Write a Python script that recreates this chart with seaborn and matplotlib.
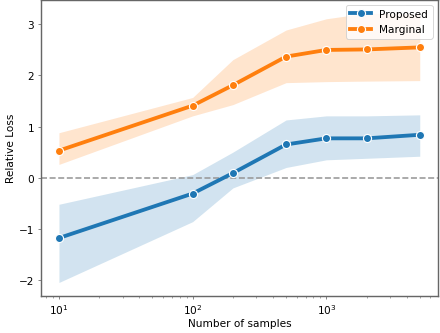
import numpy as np
import pandas as pd
import matplotlib
matplotlib.use('Agg')
import matplotlib.pyplot as plt
import seaborn as sns

# Data
n_samples = [10, 100, 200, 500, 1000, 2000, 5000]

proposed_mean = [-1.18, -0.31, 0.09, 0.65, 0.77, 0.77, 0.84]
proposed_low = [-2.05, -0.86, -0.20, 0.20, 0.35, 0.38, 0.42]
proposed_high = [-0.52, 0.06, 0.50, 1.13, 1.21, 1.21, 1.23]

marginal_mean = [0.53, 1.41, 1.81, 2.37, 2.50, 2.51, 2.55]
marginal_low = [0.26, 1.21, 1.43, 1.86, 1.88, 1.89, 1.90]
marginal_high = [0.88, 1.57, 2.31, 2.89, 3.11, 3.22, 3.20]

series = {
    'Proposed': (proposed_mean, proposed_low, proposed_high, '#1f77b4'),
    'Marginal': (marginal_mean, marginal_low, marginal_high, '#ff7f0e'),
}

fig, ax = plt.subplots(figsize=(6.4, 4.858), dpi=68.75)

for name, (mean, low, high, color) in series.items():
    df = pd.DataFrame({'n': n_samples, 'loss': mean})
    ax.fill_between(n_samples, low, high, color=color, alpha=0.2, linewidth=0)
    sns.lineplot(data=df, x='n', y='loss', ax=ax, color=color, label=name,
                 marker='o', markersize=8.5, markeredgecolor='white',
                 markeredgewidth=1.2, linewidth=4, zorder=3)

ax.axhline(0, color='0.6', linestyle='--', linewidth=1.7, zorder=1.5)

ax.set_xscale('log')
ax.set_yticks([-2, -1, 0, 1, 2, 3])
ax.set_xlabel('Number of samples', fontsize=11, labelpad=2)
ax.set_ylabel('Relative Loss', fontsize=11, labelpad=3)
ax.tick_params(labelsize=11, colors='0.4', labelcolor='black')
ax.tick_params(which='minor', colors='0.4')
for s in ax.spines.values():
    s.set_color('0.4')
    s.set_linewidth(1.5)

ax.legend(loc='upper right', fontsize=11)

plt.subplots_adjust(left=0.093, right=0.995, top=0.998, bottom=0.111)
plt.savefig('out.png', dpi=68.75)
